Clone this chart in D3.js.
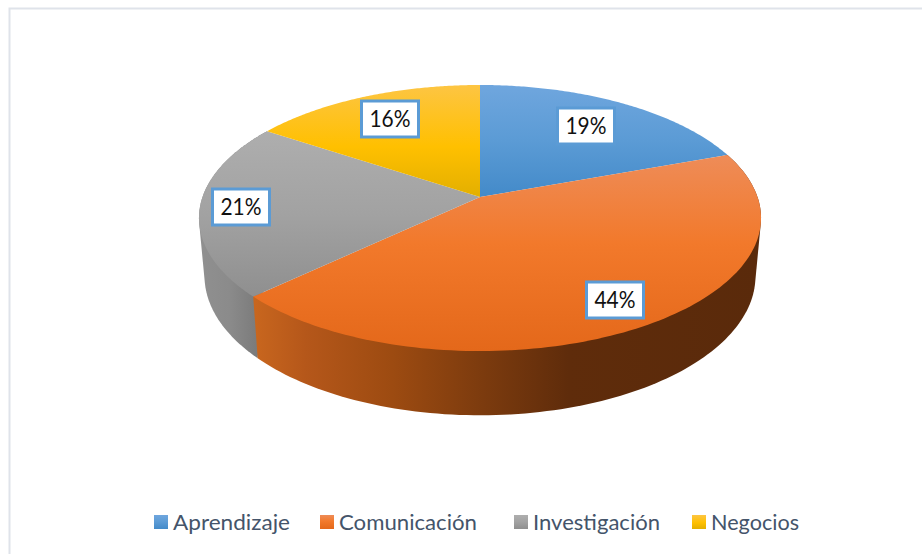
<!DOCTYPE html>
<html>
<head>
<meta charset="utf-8">
<script src="https://cdn.jsdelivr.net/npm/d3@7/dist/d3.min.js"></script>
<style>
html,body{margin:0;padding:0;background:#fff;overflow:hidden}
svg{display:block}
text{font-family:Lato,"Open Sans",sans-serif}
</style>
</head>
<body>
<script>
const categories = ["Aprendizaje", "Comunicación", "Investigación", "Negocios"];
const values = [19.45, 43.55, 21.3, 15.7];
const tickLabels = ["19%", "44%", "21%", "16%"];

const W = 922, H = 554;
const svg = d3.select("body").append("svg").attr("width", W).attr("height", H);
const defs = svg.append("defs");

// frame (only top and left edges are visible in the crop)
svg.append("path").attr("d", `M9.5,${H}V8.5H${W}`).attr("fill", "none")
  .attr("stroke", "#dfe3ea").attr("stroke-width", 2);

// perspective projection of the pie disc
const cx = 480, k = 0.158;
const topDisc = {y0: 197, A: 277.5, B: 129.7};
const botDisc = {y0: 254, A: 272, B: 135.8};
const project = (disc, angle, r = 1) => {
  const u = r * Math.sin(angle), v = -r * Math.cos(angle), w = 1 - k * v;
  return [cx + disc.A * u / w, disc.y0 + disc.B * v / w];
};

const arcs = d3.pie().sort(null).startAngle(0).endAngle(2 * Math.PI)(values);
const line = d3.line();
const sweep = (a0, a1) => d3.range(0, 121).map(i => a0 + (a1 - a0) * i / 120);

// face gradients
const faceStops = [
  [["0", "#6fa6de"], [".5", "#5b9bd5"], ["1", "#438ac9"]],
  [["0", "#ee8c58"], [".45", "#f2792b"], ["1", "#e4681a"]],
  [["0", "#aeaeae"], [".5", "#a2a2a2"], ["1", "#8f8f8f"]],
  [["0", "#fdc543"], [".55", "#ffc000"], ["1", "#e3af00"]]
];
faceStops.forEach((stops, i) => {
  const g = defs.append("linearGradient").attr("id", "face" + i)
    .attr("x1", 0).attr("y1", 0).attr("x2", 0).attr("y2", 1);
  stops.forEach(s => g.append("stop").attr("offset", s[0]).attr("stop-color", s[1]));
});

// wall gradients
const wallStops = [
  null,
  {x0: 255, x1: 761, s: [[0, "#c8661e"], [.1, "#b5571a"], [.27, "#9d4b11"], [.45, "#7c3b0e"], [.62, "#5f2c0b"], [1, "#5a2a0b"]]},
  {x0: 199, x1: 259, s: [[0, "#909090"], [.5, "#8b8b8b"], [1, "#7a7a7a"]]},
  null
];
wallStops.forEach((w, i) => {
  if (!w) return;
  const g = defs.append("linearGradient").attr("id", "wall" + i)
    .attr("gradientUnits", "userSpaceOnUse")
    .attr("x1", w.x0).attr("x2", w.x1).attr("y1", 0).attr("y2", 0);
  w.s.forEach(s => g.append("stop").attr("offset", s[0]).attr("stop-color", s[1]));
});

// walls: the hull joins the upper and lower rims with straight sides.
// Later slices are painted first so the orange wall keeps its edge at the junction.
svg.append("g").selectAll("path")
  .data(arcs.map((a, i) => ({a, i})).filter(d => wallStops[d.i]).reverse())
  .join("path")
  .attr("d", d => {
    const as = sweep(d.a.startAngle, d.a.endAngle);
    const pts = as.map(t => project(topDisc, t)).concat(as.map(t => project(botDisc, t)));
    return line(d3.polygonHull(pts)) + "Z";
  })
  .attr("fill", d => `url(#wall${d.i})`);

// faces
svg.append("g").selectAll("path")
  .data(arcs)
  .join("path")
  .attr("d", d => {
    const pts = [project(topDisc, 0, 0)].concat(sweep(d.startAngle, d.endAngle).map(t => project(topDisc, t)));
    return line(pts) + "Z";
  })
  .attr("fill", (d, i) => `url(#face${i})`);

// data labels
const labelRadial = [0.73, 0.825, 0.855, 0.753];
const boxW = 57, boxH = 36;
const labels = svg.append("g").selectAll("g")
  .data(arcs)
  .join("g")
  .attr("transform", (d, i) => {
    const p = project(topDisc, (d.startAngle + d.endAngle) / 2, labelRadial[i]);
    return `translate(${Math.round(p[0])},${Math.round(p[1])})`;
  });
labels.append("rect")
  .attr("x", -boxW / 2).attr("y", -boxH / 2).attr("width", boxW).attr("height", boxH)
  .attr("fill", "#fff").attr("stroke", "#5b9bd5").attr("stroke-width", 3);
labels.append("text")
  .attr("text-anchor", "middle").attr("y", 8).attr("font-size", 23).attr("fill", "#111")
  .attr("textLength", 41).attr("lengthAdjust", "spacingAndGlyphs")
  .text((d, i) => tickLabels[i]);

// legend
const legendX = [154, 320, 514, 692];
const legendW = [117, 138, 127, 88];
const legendFill = [0, 1, 2, 3];
const legend = svg.append("g").selectAll("g")
  .data(categories)
  .join("g")
  .attr("transform", (d, i) => `translate(${legendX[i]},515)`);
legend.append("rect").attr("width", 14).attr("height", 14).attr("fill", (d, i) => `url(#face${legendFill[i]})`);
legend.append("text")
  .attr("x", 19).attr("y", 14.5).attr("font-size", 21.5).attr("fill", "#44546a")
  .attr("textLength", (d, i) => legendW[i]).attr("lengthAdjust", "spacingAndGlyphs")
  .text(d => d);
</script>
</body>
</html>
